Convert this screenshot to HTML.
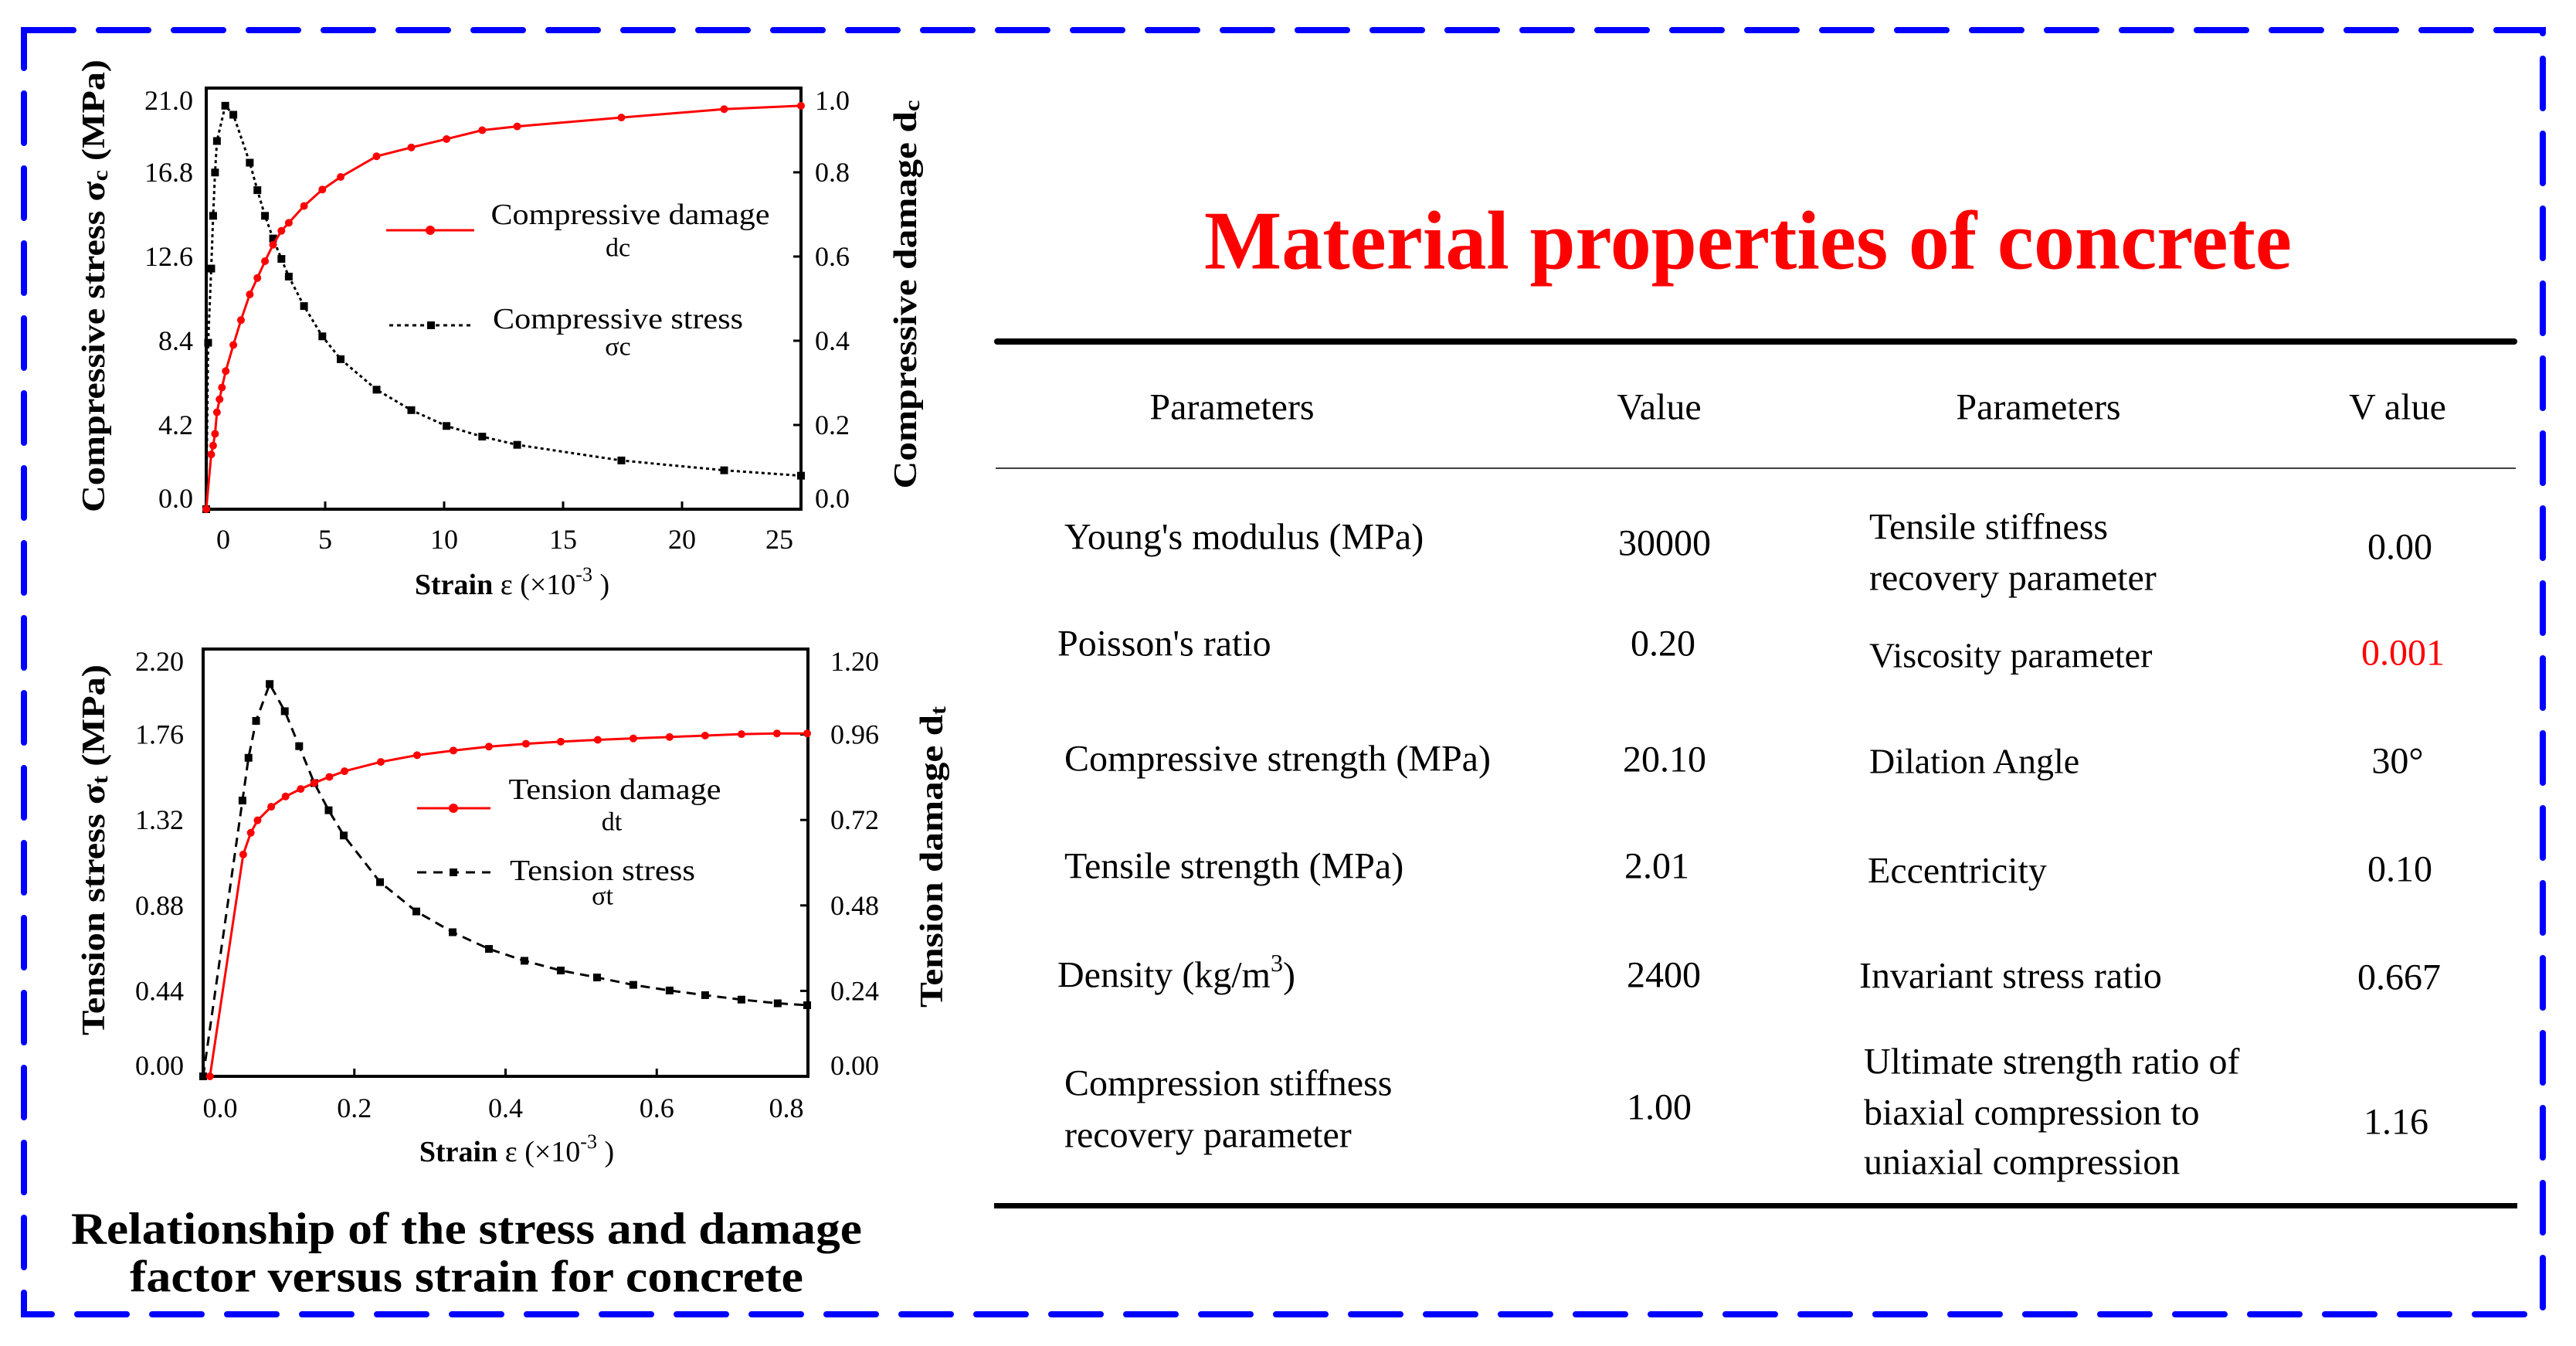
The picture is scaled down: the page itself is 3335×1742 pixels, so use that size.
<!DOCTYPE html>
<html><head><meta charset="utf-8"><style>
html,body{margin:0;padding:0;background:#fff;}
svg{display:block;font-family:"Liberation Serif","Times New Roman",serif;}
</style></head><body>
<svg id="root" width="3335" height="1742" viewBox="0 0 3335 1742" xmlns="http://www.w3.org/2000/svg">
<rect x="0" y="0" width="3335" height="1742" fill="#fff"/>
<rect x="31" y="39" width="3261" height="1662" fill="none" stroke="#0000ff" stroke-width="8" stroke-dasharray="64 33" stroke-linecap="round"/>

<!-- Chart 1 static text -->
<g id="c1">
<text x="122" y="370" transform="rotate(-90 122 370)" text-anchor="middle" dominant-baseline="central" font-weight="bold" font-size="42" textLength="586" lengthAdjust="spacingAndGlyphs">Compressive stress σ<tspan font-size="28" dy="8">c</tspan><tspan dy="-8"> (MPa)</tspan></text>
<text x="1173" y="381" transform="rotate(-90 1173 381)" text-anchor="middle" dominant-baseline="central" font-weight="bold" font-size="42" textLength="503" lengthAdjust="spacingAndGlyphs">Compressive damage d<tspan font-size="28" dy="8">c</tspan></text>
<text x="663" y="757" text-anchor="middle" dominant-baseline="central" font-size="38"><tspan font-weight="bold">Strain</tspan> ε (×10<tspan font-size="26" dy="-14">-3</tspan><tspan dy="14"> )</tspan></text>
<line x1="500" y1="298" x2="614" y2="298" stroke="#ff0000" stroke-width="3"/>
<circle cx="557" cy="298" r="6" fill="#ff0000"/>
<text x="816" y="278" text-anchor="middle" dominant-baseline="central" font-size="38" textLength="361" lengthAdjust="spacingAndGlyphs">Compressive damage</text>
<text x="800" y="321" text-anchor="middle" dominant-baseline="central" font-size="34">dc</text>
<line x1="504" y1="421" x2="611" y2="421" stroke="#000" stroke-width="3" stroke-dasharray="5 5"/>
<rect x="553" y="416" width="10" height="10" fill="#000"/>
<text x="800" y="413" text-anchor="middle" dominant-baseline="central" font-size="38" textLength="324" lengthAdjust="spacingAndGlyphs">Compressive stress</text>
<text x="800" y="449" text-anchor="middle" dominant-baseline="central" font-size="34">σc</text>
</g>

<!-- Chart 2 static text -->
<g id="c2">
<text x="122" y="1100" transform="rotate(-90 122 1100)" text-anchor="middle" dominant-baseline="central" font-weight="bold" font-size="42" textLength="480" lengthAdjust="spacingAndGlyphs">Tension stress σ<tspan font-size="28" dy="8">t</tspan><tspan dy="-8"> (MPa)</tspan></text>
<text x="1207" y="1109" transform="rotate(-90 1207 1109)" text-anchor="middle" dominant-baseline="central" font-weight="bold" font-size="42" textLength="390" lengthAdjust="spacingAndGlyphs">Tension damage d<tspan font-size="28" dy="8">t</tspan></text>
<text x="669" y="1491" text-anchor="middle" dominant-baseline="central" font-size="38"><tspan font-weight="bold">Strain</tspan> ε (×10<tspan font-size="26" dy="-14">-3</tspan><tspan dy="14"> )</tspan></text>
<line x1="540" y1="1046" x2="635" y2="1046" stroke="#ff0000" stroke-width="3"/>
<circle cx="587" cy="1046" r="6" fill="#ff0000"/>
<text x="796" y="1022" text-anchor="middle" dominant-baseline="central" font-size="38" textLength="275" lengthAdjust="spacingAndGlyphs">Tension damage</text>
<text x="792" y="1064" text-anchor="middle" dominant-baseline="central" font-size="34">dt</text>
<line x1="540" y1="1129" x2="635" y2="1129" stroke="#000" stroke-width="3" stroke-dasharray="12 9"/>
<rect x="582" y="1124" width="10" height="10" fill="#000"/>
<text x="780" y="1127" text-anchor="middle" dominant-baseline="central" font-size="38" textLength="240" lengthAdjust="spacingAndGlyphs">Tension stress</text>
<text x="780" y="1160" text-anchor="middle" dominant-baseline="central" font-size="34">σt</text>
</g>

<text x="604" y="1590" text-anchor="middle" dominant-baseline="central" font-weight="bold" font-size="58" textLength="1024" lengthAdjust="spacingAndGlyphs">Relationship of the stress and damage</text>
<text x="604" y="1652" text-anchor="middle" dominant-baseline="central" font-weight="bold" font-size="58" textLength="872" lengthAdjust="spacingAndGlyphs">factor versus strain for concrete</text>

<!-- Table -->
<g font-size="48">
<text x="2263" y="312" text-anchor="middle" dominant-baseline="central" font-weight="bold" font-size="108" fill="#ff0000" textLength="1408" lengthAdjust="spacingAndGlyphs">Material properties of concrete</text>
<rect x="1287" y="438" width="1972" height="8" rx="4" fill="#000"/>
<line x1="1289" y1="606" x2="3257" y2="606" stroke="#000" stroke-width="1.5"/>
<rect x="1287" y="1557" width="1972" height="7" fill="#000"/>
<g text-anchor="middle" dominant-baseline="central">
<text x="1595" y="527">Parameters</text>
<text x="2148" y="527">Value</text>
<text x="2639" y="527">Parameters</text>
<text x="3104" y="527">V alue</text>
<text x="2155" y="703">30000</text>
<text x="3107" y="708">0.00</text>
<text x="2153" y="833">0.20</text>
<text x="3111" y="845" fill="#ff0000">0.001</text>
<text x="2155" y="983">20.10</text>
<text x="3104" y="985">30°</text>
<text x="2145" y="1121">2.01</text>
<text x="3107" y="1125">0.10</text>
<text x="2154" y="1262">2400</text>
<text x="3106" y="1265">0.667</text>
<text x="2148" y="1433">1.00</text>
<text x="3102" y="1452">1.16</text>
</g>
<g dominant-baseline="central">
<text x="1378" y="695">Young's modulus (MPa)</text>
<text x="2420" y="682">Tensile stiffness</text>
<text x="2420" y="748">recovery parameter</text>
<text x="1369" y="833">Poisson's ratio</text>
<text x="2420" y="848" font-size="46">Viscosity parameter</text>
<text x="1378" y="982">Compressive strength (MPa)</text>
<text x="2420" y="985" font-size="46">Dilation Angle</text>
<text x="1378" y="1121">Tensile strength (MPa)</text>
<text x="2418" y="1127">Eccentricity</text>
<text x="1369" y="1262">Density  (kg/m<tspan font-size="32" dy="-16">3</tspan><tspan dy="16">)</tspan></text>
<text x="2407" y="1263">Invariant stress ratio</text>
<text x="1378" y="1402">Compression stiffness</text>
<text x="1378" y="1469">recovery parameter</text>
<text x="2413" y="1374">Ultimate strength ratio of</text>
<text x="2413" y="1440">biaxial compression to</text>
<text x="2413" y="1504">uniaxial compression</text>
</g>
</g>
</svg>
<script>
// ---- Chart 1 data (compressive) ----
const c1Strain = [0,0.21,0.29,0.37,0.45,0.56,0.66,0.82,1.14,1.46,1.83,2.15,2.47,2.81,3.16,3.47,4.11,4.88,5.65,7.16,8.62,10.1,11.6,13.07,17.45,21.77,25];
const c1Damage = [0,0.13,0.151,0.179,0.23,0.261,0.289,0.328,0.39,0.449,0.51,0.549,0.589,0.628,0.661,0.68,0.72,0.759,0.789,0.838,0.859,0.879,0.9,0.909,0.93,0.95,0.958];
const c1StressStrain = [0,0.08,0.21,0.29,0.37,0.45,0.8,1.14,1.83,2.15,2.47,2.81,3.16,3.47,4.11,4.88,5.65,7.16,8.62,10.1,11.6,13.07,17.45,21.77,25];
const c1Stress = [0,8.3,12.0,14.63,16.79,18.36,20.12,19.67,17.28,15.91,14.63,13.5,12.48,11.6,10.13,8.62,7.48,5.96,4.94,4.15,3.62,3.21,2.43,1.94,1.67];
const c1XTicks = [0,5,10,15,20,25];
const c1YLeftTicks = ["0.0","4.2","8.4","12.6","16.8","21.0"];
const c1YRightTicks = ["0.0","0.2","0.4","0.6","0.8","1.0"];
// ---- Chart 2 data (tension) ----
const c2DamageStrain = [0.009,0.053,0.063,0.072,0.09,0.109,0.129,0.147,0.167,0.187,0.235,0.283,0.331,0.378,0.427,0.473,0.522,0.569,0.617,0.664,0.712,0.759,0.799];
const c2Damage = [0,0.623,0.684,0.719,0.757,0.786,0.807,0.824,0.841,0.857,0.883,0.902,0.915,0.926,0.934,0.94,0.945,0.949,0.953,0.957,0.961,0.963,0.963];
const c2StressStrain = [0,0.052,0.06,0.07,0.088,0.108,0.127,0.147,0.166,0.186,0.234,0.282,0.33,0.378,0.425,0.473,0.521,0.569,0.617,0.664,0.712,0.76,0.799];
const c2Stress = [0,1.42,1.64,1.83,2.02,1.88,1.7,1.51,1.37,1.24,1.0,0.849,0.742,0.656,0.595,0.545,0.509,0.471,0.442,0.418,0.395,0.376,0.366];
const c2XTicks = [0,0.2,0.4,0.6,0.8];
const c2YLeftTicks = ["0.00","0.44","0.88","1.32","1.76","2.20"];
const c2YRightTicks = ["0.00","0.24","0.48","0.72","0.96","1.20"];

const NS = "http://www.w3.org/2000/svg";
const root = document.getElementById("root");
function mk(tag, attrs, parent) {
  const e = document.createElementNS(NS, tag);
  for (const k in attrs) e.setAttribute(k, attrs[k]);
  (parent || root).appendChild(e);
  return e;
}

function drawChart(cfg) {
  const g = mk("g", {});
  
  
  const L = cfg.box[0], T = cfg.box[1], R = cfg.box[2], B = cfg.box[3];
  const xs = v => L + (v - cfg.xMin) / (cfg.xMax - cfg.xMin) * (R - L);
  const yl = v => B - v / cfg.yLMax * (B - T);
  const yr = v => B - v / cfg.yRMax * (B - T);
  const frame = mk("rect", {x: L, y: T, width: R - L, height: B - T, fill: "none", stroke: "#000", "stroke-width": 4}, g);
  
  
  cfg.xTicks.forEach(v => {
    const x = xs(v);
    const t = mk("line", {x1: x, y1: B, x2: x, y2: B - 10, stroke: "#000", "stroke-width": 3}, g);
    
    
    const lx = Math.min(Math.max(x, L + 22), R - 28);
    const lab = mk("text", {x: lx, y: cfg.xLabY, "text-anchor": "middle", "dominant-baseline": "central", "font-size": 36}, g);
    lab.textContent = cfg.xFmt(v);
    
    
  });
  cfg.yLeftTicks.forEach((s, i) => {
    const y = B - i / (cfg.yLeftTicks.length - 1) * (B - T);
    const lab = mk("text", {x: cfg.yLabL, y: Math.min(Math.max(y, T + 16), B - 14), "text-anchor": "end", "dominant-baseline": "central", "font-size": 36}, g);
    lab.textContent = s;
    
    
  });
  cfg.yRightTicks.forEach((s, i) => {
    const y = B - i / (cfg.yRightTicks.length - 1) * (B - T);
    const t = mk("line", {x1: R, y1: y, x2: R - 10, y2: y, stroke: "#000", "stroke-width": 3}, g);
    
    
    const lab = mk("text", {x: cfg.yLabR, y: Math.min(Math.max(y, T + 16), B - 14), "text-anchor": "start", "dominant-baseline": "central", "font-size": 36}, g);
    lab.textContent = s;
    
    
  });
  // stress series (black, left axis)
  const sp = cfg.sX.map((v, i) => xs(v) + "," + yl(cfg.sY[i])).join(" ");
  const sl = mk("polyline", {points: sp, fill: "none", stroke: "#000", "stroke-width": 3, "stroke-dasharray": cfg.dash}, g);
  
  
  cfg.sX.forEach((v, i) => {
    const m = mk("rect", {x: xs(v) - 5, y: yl(cfg.sY[i]) - 5, width: 10, height: 10, fill: "#000"}, g);
    
    
  });
  // damage series (red, right axis)
  const dp = cfg.dX.map((v, i) => xs(v) + "," + yr(cfg.dY[i])).join(" ");
  const dl = mk("polyline", {points: dp, fill: "none", stroke: "#ff0000", "stroke-width": 3}, g);
  
  
  cfg.dX.forEach((v, i) => {
    const c = mk("circle", {cx: xs(v), cy: yr(cfg.dY[i]), r: 5, fill: "#ff0000"}, g);
    
    
  });
}

drawChart({name: "compressive-plot", box: [267, 114, 1037, 659], xMin: 0, xMax: 25, yLMax: 21, yRMax: 1,
  xTicks: c1XTicks, xFmt: v => String(v), xLabY: 698, yLeftTicks: c1YLeftTicks, yRightTicks: c1YRightTicks,
  yLabL: 250, yLabR: 1055, sX: c1StressStrain, sY: c1Stress, dX: c1Strain, dY: c1Damage, dash: "4 4"});
drawChart({name: "tension-plot", box: [263, 840, 1046, 1393], xMin: 0, xMax: 0.8, yLMax: 2.2, yRMax: 1.2,
  xTicks: c2XTicks, xFmt: v => v.toFixed(1), xLabY: 1434, yLeftTicks: c2YLeftTicks, yRightTicks: c2YRightTicks,
  yLabL: 238, yLabR: 1075, sX: c2StressStrain, sY: c2Stress, dX: c2DamageStrain, dY: c2Damage, dash: "12 8"});
</script>
</body></html>
